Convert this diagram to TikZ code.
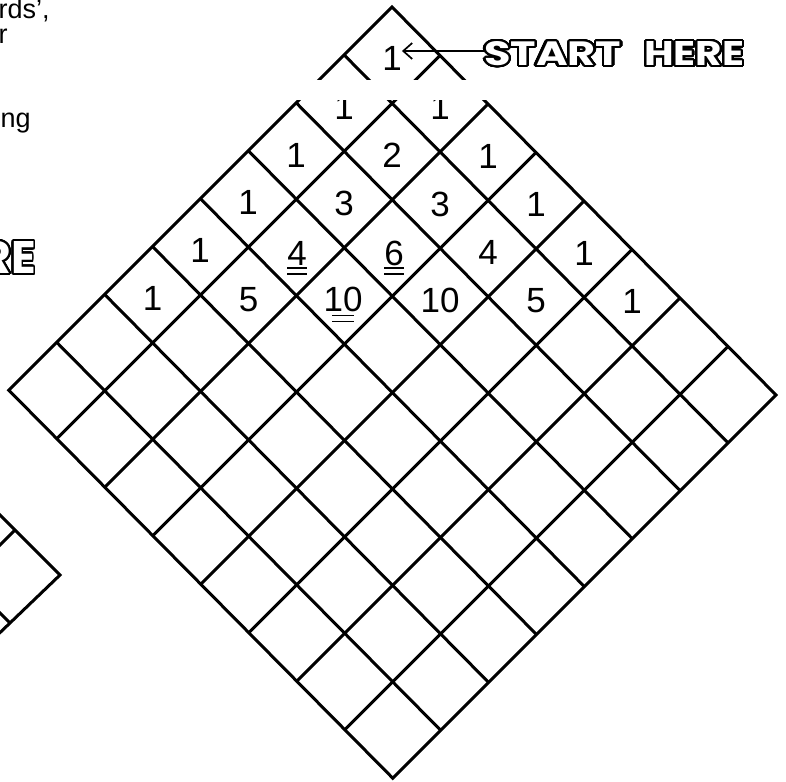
\documentclass[tikz,border=0pt]{standalone}
\usepackage{fontspec}
\setmainfont{Liberation Sans}
\newfontfamily\showfont{Poppins}
\usepackage{contour}
\usepackage{graphicx}
\usetikzlibrary{arrows.meta,calc}
\contournumber{48}
\newcommand\outlined[2]{{\fontsize{#1}{#1}\showfont\bfseries\contourlength{1.9pt}\color{white}\contour{black}{#2}}}
\tikzset{
  gridline/.style={line width=3pt, line join=miter},
  digit/.style={font=\fontsize{35}{35}\selectfont, inner sep=0pt, anchor=center},
  dbl/.style={line width=1.7pt},
  sidetext/.style={font=\fontsize{27}{27}\selectfont, inner sep=0pt, anchor=base west},
  pointer/.style={line width=1.7pt, -{Straight Barb[length=9pt,width=16pt,line width=1.7pt]}},
  showtext/.style={inner sep=0pt}
}
\begin{document}
\begin{tikzpicture}[x=1pt,y=-1pt]
\useasboundingbox (0,0) rectangle (786,781);
% main diamond grid
\coordinate (A) at (392,7);
\draw[gridline] (A) -- (8.8,390.2) -- (392.8,778.2) -- (776,395) -- cycle;
\foreach \k in {1,...,7} {
  \draw[gridline] ($(A)+\k*(-47.9,47.9)$) -- ++(384,388);
  \draw[gridline] ($(A)+\k*(48,48.5)$) -- ++(-383.2,383.2);
}
% numbers
\node[digit] (d00) at (392,58) {1};
\node[digit] (d10) at (344,107.1) {1};
\node[digit] (d11) at (440,107.7) {1};
\node[digit] (d20) at (296,155.0) {1};
\node[digit] (d21) at (392,155.6) {2};
\node[digit] (d22) at (488,156.2) {1};
\node[digit] (d30) at (248,202.9) {1};
\node[digit] (d31) at (344,203.5) {3};
\node[digit] (d32) at (440,204.1) {3};
\node[digit] (d33) at (536,204.7) {1};
\node[digit] (d40) at (200,250.8) {1};
\node[digit] (d41) at (297,253) {4};
\node[digit] (d42) at (394,253) {6};
\node[digit] (d43) at (488,252.6) {4};
\node[digit] (d44) at (584,253.2) {1};
\node[digit] (d50) at (152.5,298.7) {1};
\node[digit] (d51) at (248.5,299.3) {5};
\node[digit] (d52) at (343,299.9) {10};
\node[digit] (d53) at (440,300.5) {10};
\node[digit] (d54) at (536,301.1) {5};
\node[digit] (d55) at (632,301.7) {1};
% double underlines
\draw[dbl] ([xshift=-10pt,yshift=-2.5pt]d41.south) -- ([xshift=10pt,yshift=-2.5pt]d41.south);
\draw[dbl] ([xshift=-10pt,yshift=-8.5pt]d41.south) -- ([xshift=10pt,yshift=-8.5pt]d41.south);
\draw[dbl] ([xshift=-10pt,yshift=-2.5pt]d42.south) -- ([xshift=10pt,yshift=-2.5pt]d42.south);
\draw[dbl] ([xshift=-10pt,yshift=-8.5pt]d42.south) -- ([xshift=10pt,yshift=-8.5pt]d42.south);
\draw[dbl] ([xshift=-11pt,yshift=-3pt]d52.south) -- ([xshift=11pt,yshift=-3pt]d52.south);
\draw[dbl] ([xshift=-11pt,yshift=-9pt]d52.south) -- ([xshift=11pt,yshift=-9pt]d52.south);
% blank band across the cut
\fill[white] (250,80) rectangle (560,100.3);
% start label and pointer
\node[showtext, anchor=west] (start) at (484,54.5) {\resizebox{137pt}{24pt}{\outlined{36}{START}}};
\node[showtext, anchor=west] (here) at (644,54.5) {\resizebox{100pt}{24pt}{\outlined{36}{HERE}}};
\draw[pointer] ([yshift=3.5pt]start.west) -- ([yshift=3.5pt]start.west -| d00.east);
% fragments at the left edge
\node[sidetext] (t1) at (-1.5,18.5) {rds’,};
\node[sidetext] (t2) at (-1.5,43.5) {r};
\node[sidetext] (t3) at (0.5,128) {ng};
\node[showtext, anchor=east] (re) at (36,258.5) {\resizebox{!}{32pt}{\outlined{47}{RE}}};
% part of another grid at bottom left
\draw[gridline] (-5,510) -- (15,530) -- (60,575) -- (10,623) -- (-5,637.4);
\draw[gridline] (15,530) -- (-5,550);
\draw[gridline] (10,623) -- (-5,608);
\end{tikzpicture}
\end{document}
